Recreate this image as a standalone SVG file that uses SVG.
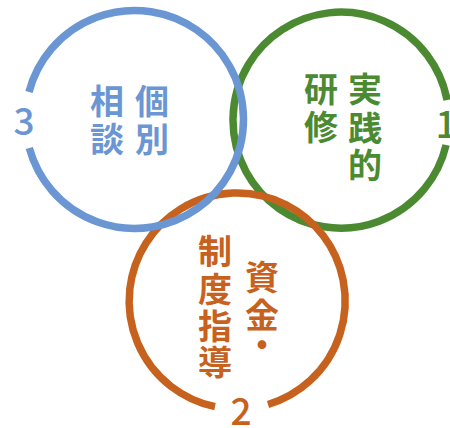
<svg xmlns="http://www.w3.org/2000/svg" width="450" height="428" viewBox="0 0 450 428">
<style>
.ring{fill:none;stroke-width:7.5}
.kj{font-family:"Noto Sans CJK JP","Noto Sans CJK SC",sans-serif;font-weight:bold;font-size:34px;text-anchor:middle}
.num{font-family:"Noto Sans CJK JP","Noto Sans",sans-serif;font-weight:500;font-size:37px;text-anchor:middle}
.b{fill:#6b96d4;stroke:#6b96d4}
.g{fill:#4c8a32;stroke:#4c8a32}
.o{fill:#c6621e;stroke:#c6621e}
</style>
<rect width="450" height="428" fill="#ffffff"/>
<g id="connectors">
<path class="ring g" style="fill:none" d="M446.1,145 A108,108 0 1 1 447.1,100"/>
<path class="ring o" style="fill:none" d="M215,406.7 A108,108 0 1 1 268,404.5"/>
<path class="ring b" style="fill:none" d="M29,92 A109,109 0 1 1 29.3,148"/>
</g>
<g id="node-practice">
<text class="kj g" style="stroke:none" x="365" y="102">実</text>
<text class="kj g" style="stroke:none" x="365" y="141">践</text>
<text class="kj g" style="stroke:none" x="365" y="178">的</text>
<text class="kj g" style="stroke:none" x="321" y="102">研</text>
<text class="kj g" style="stroke:none" x="321" y="140">修</text>
<text class="num g" style="stroke:none" x="446" y="138">1</text>
</g>
<g id="node-funding">
<text class="kj o" style="stroke:none" x="215" y="264">制</text>
<text class="kj o" style="stroke:none" x="215" y="302">度</text>
<text class="kj o" style="stroke:none" x="215" y="339">指</text>
<text class="kj o" style="stroke:none" x="215" y="375">導</text>
<text class="kj o" style="stroke:none" x="262" y="290">資</text>
<text class="kj o" style="stroke:none" x="262" y="328">金</text>
<text class="kj o" style="stroke:none" x="262" y="358">・</text>
<text class="num o" style="stroke:none" x="241" y="425">2</text>
</g>
<g id="node-consult">
<text class="kj b" style="stroke:none" x="152" y="114">個</text>
<text class="kj b" style="stroke:none" x="152" y="152">別</text>
<text class="kj b" style="stroke:none" x="107" y="114">相</text>
<text class="kj b" style="stroke:none" x="107" y="152">談</text>
<text class="num b" style="stroke:none" x="24" y="135">3</text>
</g>
</svg>
